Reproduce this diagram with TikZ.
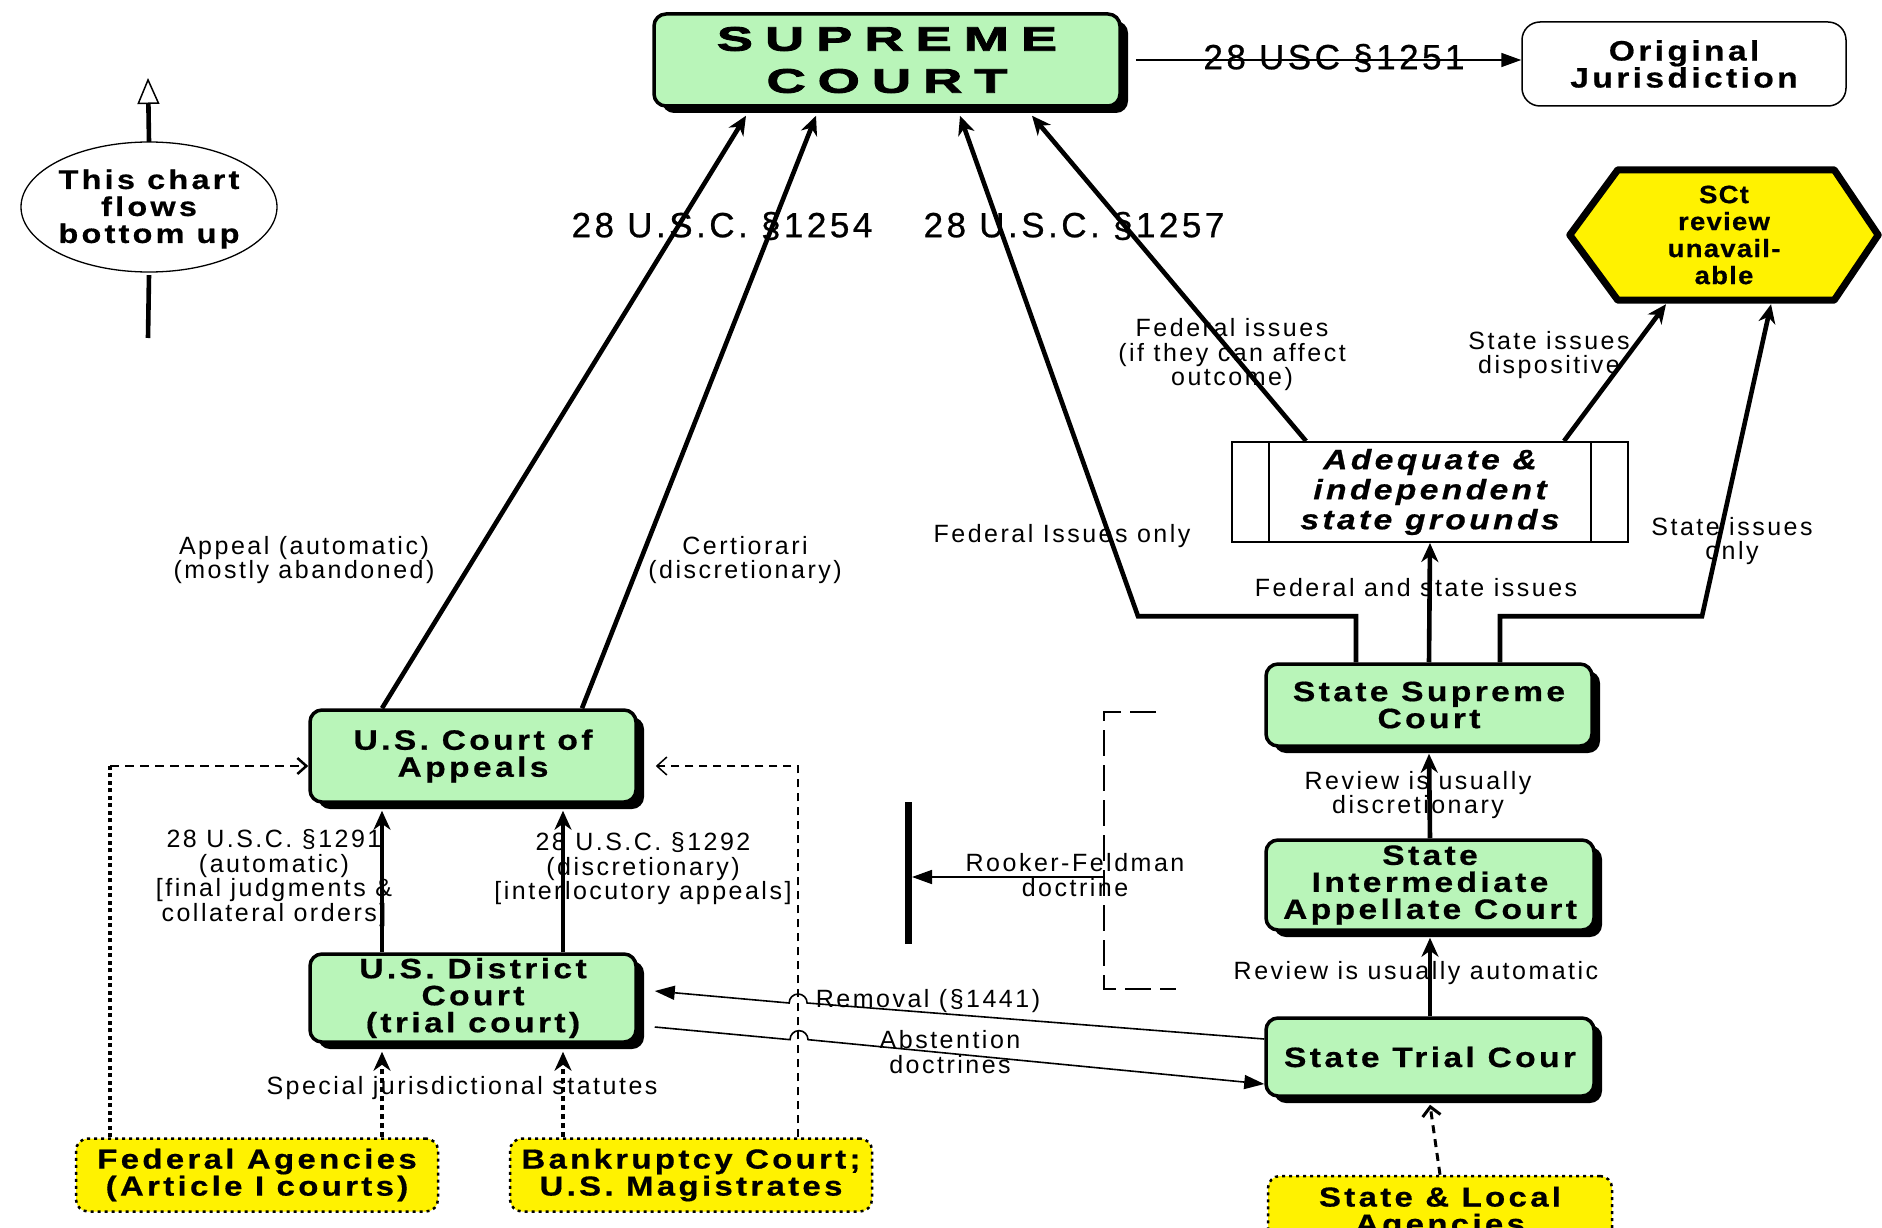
\documentclass[tikz,border=0pt]{standalone}
\usepackage{fontspec}
\setmainfont{Liberation Sans}[LetterSpace=10]
\newfontfamily\nodefont{Liberation Sans}[LetterSpace=12,FakeStretch=1.2,BoldFeatures={FakeBold=0.6},BoldItalicFeatures={FakeBold=0.6}]
\newfontfamily\hexfont{Liberation Sans}[LetterSpace=5,FakeStretch=1.1,BoldFeatures={FakeBold=0.6}]
\newfontfamily\bigfont{Liberation Sans}[LetterSpace=10,FakeBold=0.7]
\newfontfamily\supfont{Liberation Sans}[LetterSpace=35,FakeStretch=1.6,BoldFeatures={FakeBold=2.5}]
\usetikzlibrary{arrows.meta,shadows,backgrounds,calc,shapes.geometric}
\definecolor{dotgreen}{RGB}{185,245,185}
\begin{document}
\begin{tikzpicture}[x=1pt,y=-1pt,
  court/.style={draw, line width=3.5pt, rounded corners=12pt, fill=dotgreen,
    drop shadow={shadow xshift=8pt, shadow yshift=-7pt, fill=black, opacity=1},
    inner sep=0pt, align=center, font=\nodefont\bfseries\fontsize{28}{27}\selectfont},
  agency/.style={draw, line width=2.5pt, dash pattern=on 3pt off 4pt, fill=yellow,
    rounded corners=12pt, inner sep=0pt, align=center,
    font=\nodefont\bfseries\fontsize{27.5}{27}\selectfont},
  lab/.style={inner sep=0pt, align=center, font=\fontsize{25}{24.5}\selectfont},
  biglab/.style={inner sep=0pt, align=center, font=\bigfont\fontsize{35}{36}\selectfont},
  conn/.style={line width=4.6pt, -{Stealth[length=19pt, width=17pt, inset=6pt]}},
  thinarrow/.style={line width=1.6pt, -{Triangle[length=20pt, width=14pt]}},
  barb/.style={-{Straight Barb[length=9pt, width=18pt]}}
]
\useasboundingbox (0,0) rectangle (1882,1228);
\begin{scope}[on background layer]
  \fill[white] (0,0) rectangle (1882,1228);
\end{scope}

% ---------- nodes ----------
\node[court, minimum width=466pt, minimum height=92pt,
  font=\supfont\bfseries\fontsize{34}{42}\selectfont] (sc) at (887,60) {SUPREME\\COURT};
\node[draw, line width=1.5pt, rounded corners=18pt, minimum width=324pt, minimum height=84pt,
  inner sep=0pt, align=center, font=\nodefont\bfseries\fontsize{28}{27}\selectfont]
  (oj) at (1684,64) {Original\\Jurisdiction};
\node[align=center, minimum width=256pt, minimum height=130pt, inner sep=0pt,
  font=\nodefont\bfseries\fontsize{27}{27}\selectfont] (note) at (149,209)
  {This chart\\flows\\bottom up};
\draw[line width=1.3pt] (149,207) ellipse[x radius=128pt, y radius=65pt];
\node[align=center, minimum width=308pt, minimum height=130pt, inner sep=0pt,
  font=\hexfont\bfseries\fontsize{25}{27}\selectfont] (hx) at (1724,235) {SCt\\review\\unavail-\\able};
\begin{scope}[on background layer]
  \draw[line width=7pt, fill=yellow, line join=round] (hx.west) -- ([xshift=48pt]hx.north west)
    -- ([xshift=-44pt]hx.north east) -- (hx.east) -- ([xshift=-44pt]hx.south east)
    -- ([xshift=48pt]hx.south west) -- cycle;
\end{scope}
\node[draw, line width=2pt, minimum width=396pt, minimum height=100pt, inner sep=0pt, align=center,
  font=\nodefont\bfseries\itshape\fontsize{28}{30}\selectfont] (ag) at (1430,492)
  {Adequate \&\\independent\\state grounds};
\draw[line width=2pt] ([xshift=38pt]ag.north west) -- ([xshift=38pt]ag.south west);
\draw[line width=2pt] ([xshift=-38pt]ag.north east) -- ([xshift=-38pt]ag.south east);

\node[court, minimum width=326pt, minimum height=82pt] (ssc) at (1429,705) {State Supreme\\Court};
\node[court, minimum width=328pt, minimum height=90pt] (sia) at (1430,885) {State\\Intermediate\\Appellate Court};
\node[court, minimum width=328pt, minimum height=78pt] (stc) at (1430,1057) {State Trial Cour};
\node[agency, minimum width=344pt, minimum height=74pt] (sla) at (1440,1213) {State \& Local\\Agencies};

\node[court, minimum width=326pt, minimum height=92pt] (coa) at (473,756) {U.S. Court of\\Appeals};
\node[court, minimum width=326pt, minimum height=88pt] (dc) at (473,998) {U.S. District\\Court\\(trial court)};
\node[agency, minimum width=362pt, minimum height=73pt] (fa) at (257,1175) {Federal Agencies\\(Article I courts)};
\node[agency, minimum width=362pt, minimum height=73pt] (bk) at (691,1175) {Bankruptcy Court;\\U.S. Magistrates};

% ---------- legend arrow ----------
\coordinate (noteT) at (148,78);
\coordinate (noteB) at (148,338);
\draw[line width=4.6pt, -{Triangle[open, length=26pt, width=22pt, line width=1.5pt]}] ([yshift=2pt]note.north) -- (noteT);
\draw[line width=4.6pt] ([yshift=-1pt]note.south) -- (noteB);

% ---------- connectors to Supreme Court ----------
\draw[thinarrow] ([xshift=14pt]sc.east) -- (sc.east -| oj.west);
\draw[conn] ([xshift=-91pt]coa.north) -- ([xshift=-141pt,yshift=-8pt]sc.south);
\draw[conn] ([xshift=109pt]coa.north) -- ([xshift=-71pt,yshift=-8pt]sc.south);
\draw[conn] ([xshift=-73pt]ssc.north) -- ++(0,-46) -- ++(-218,0) -- ([xshift=73pt,yshift=-8pt]sc.south);
\draw[conn] ([xshift=-124pt]ag.north) -- ([xshift=145pt,yshift=-8pt]sc.south);
\draw[conn] ([xshift=134pt]ag.north) -- ([xshift=-58pt,yshift=-4pt]hx.south);
\draw[conn] ([xshift=71pt]ssc.north) -- ++(0,-46) -- ++(202,0) -- ([xshift=47pt,yshift=-4pt]hx.south);
\draw[conn] (ssc.north) -- (ag.south);
\draw[conn] (sia.north) -- ([yshift=-6pt]ssc.south);
\draw[conn] (stc.north) -- ([yshift=-6pt]sia.south);
\draw[line width=3pt, dash pattern=on 8pt off 6pt, barb] (sla.north) -- ([yshift=-7pt]stc.south);

% ---------- federal side ----------
\draw[conn] ([xshift=-91pt]dc.north) -- ([xshift=-91pt,yshift=-7pt]coa.south);
\draw[conn] ([xshift=90pt]dc.north) -- ([xshift=90pt,yshift=-7pt]coa.south);
\draw[line width=4.6pt, dash pattern=on 5pt off 4pt, -{Stealth[length=19pt, width=17pt, inset=6pt]}]
  ([xshift=125pt]fa.north) -- ([xshift=-91pt,yshift=-8pt]dc.south);
\draw[line width=4.6pt, dash pattern=on 5pt off 4pt, -{Stealth[length=19pt, width=17pt, inset=6pt]}]
  ([xshift=-128pt]bk.north) -- ([xshift=90pt,yshift=-8pt]dc.south);
\coordinate (faS) at ([xshift=-147pt]fa.north);
\coordinate (coaW) at ([yshift=-10pt]coa.west);
\coordinate (faC) at (faS |- coaW);
\draw[line width=3.5pt, dash pattern=on 4pt off 3.5pt] (faS) -- (faC);
\draw[line width=2.2pt, dash pattern=on 9pt off 6pt, -{Straight Barb[length=9pt, width=16pt, line width=2.5pt]}]
  (faC) -- (coaW);
\draw[line width=1.5pt, dash pattern=on 8pt off 6pt, -{Straight Barb[length=10pt, width=18pt]}]
  ([xshift=107pt]bk.north) |- ([xshift=18pt,yshift=-10pt]coa.east);

% removal / abstention
\coordinate (remA) at ([yshift=18pt]stc.west);
\coordinate (remB) at ([xshift=17pt,yshift=7pt]dc.east);
\draw[thinarrow] (remA) -- ($(remA)!0.75!(remB)$) arc[start angle=0, end angle=180, radius=9pt] -- (remB);
\coordinate (absA) at ([xshift=17pt,yshift=-29pt]dc.east);
\coordinate (absB) at ([yshift=-27pt]stc.west);
\draw[thinarrow] (absA) -- ($(absA)!0.2219!(absB)$) arc[start angle=180, end angle=0, radius=9pt] -- (absB);

% Rooker-Feldman
\coordinate (rfT) at (908,802);
\coordinate (rfB) at (908,944);
\coordinate (brk) at (1104,877);
\coordinate (bk1) at (1156,712);
\coordinate (bk2) at (1104,712);
\coordinate (bk3) at (1104,989);
\coordinate (bk4) at (1176,989);
\draw[line width=7pt] (rfT) -- (rfB);
\draw[thinarrow] (brk) -- ($(rfT |- brk)+(4,0)$);
\draw[line width=1.5pt, dash pattern=on 26pt off 9pt] (bk1) -- (bk2) -- (bk3) -- (bk4);

% ---------- labels ----------
\node[biglab] (t1254) at (722,226) {28 U.S.C. §1254};
\node[biglab] (t1257) at (1074,226) {28 U.S.C. §1257};
\node[biglab] (t1251) at (1334,58) {28 USC §1251};
\node[lab] (tapp) at (304,560) {Appeal (automatic)\\(mostly abandoned)};
\node[lab] (tcert) at (745,560) {Certiorari\\(discretionary)};
\node[lab] (tfio) at (1062,536) {Federal Issues only};
\node[lab] (tfia) at (1232,355) {Federal issues\\(if they can affect\\outcome)};
\node[lab] (tsid) at (1549,355) {State issues\\dispositive};
\node[lab] (tsio) at (1732,541) {State issues\\only};
\node[lab] (tfas) at (1416,588) {Federal and state issues};
\node[lab] (trd) at (1418,795) {Review is usually\\discretionary};
\node[lab] (tra) at (1416,973) {Review is usually automatic};
\node[lab] (trf) at (1075,875) {Rooker-Feldman\\doctrine};
\node[lab] (trem) at (928,1001) {Removal (§1441)};
\node[lab] (tabs) at (950,1052) {Abstention\\doctrines};
\node[lab] (tsjs) at (462,1088) {Special jurisdictional statutes};
\node[lab] (t1291) at (274,878) {28 U.S.C. §1291\\(automatic)\\{[}final judgments \&\\collateral orders{]}};
\node[lab] (t1292) at (643,869) {28 U.S.C. §1292\\(discretionary)\\{[}interlocutory appeals{]}};
\end{tikzpicture}
\end{document}
